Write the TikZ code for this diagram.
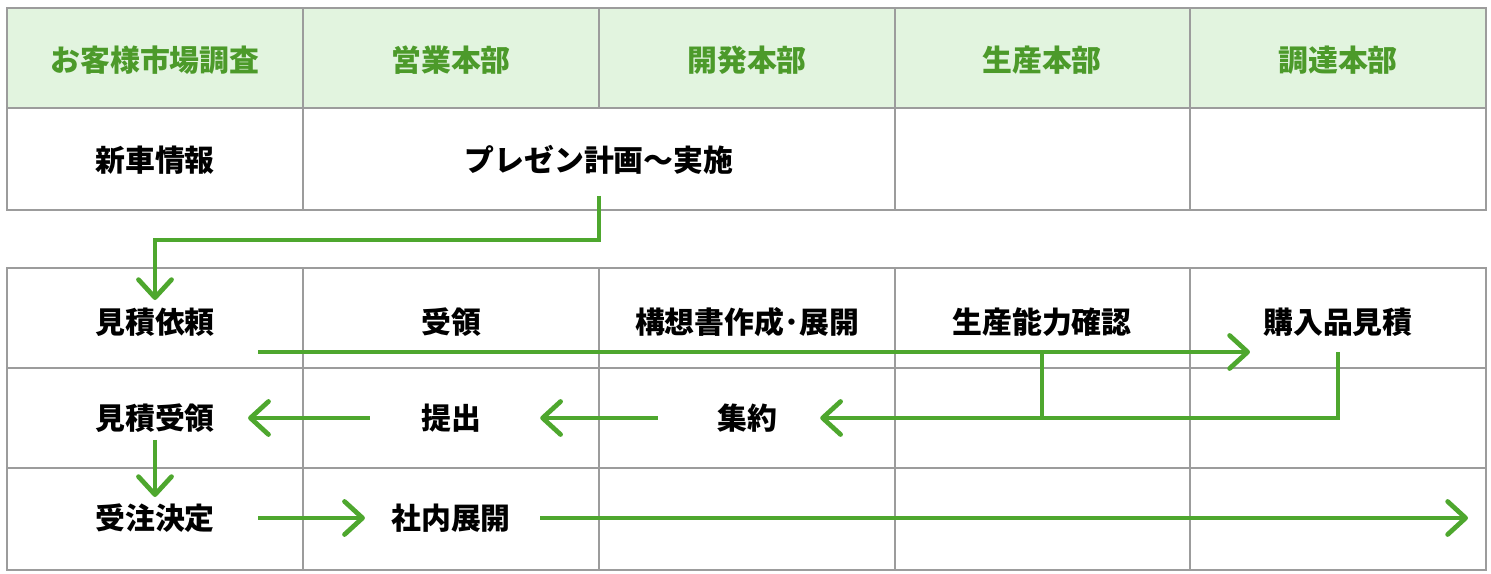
\documentclass[tikz,border=0pt]{standalone}
\usepackage{fontspec}
\setmainfont{Noto Sans CJK JP}
\usepackage{tikz}
\usetikzlibrary{arrows.meta}
\definecolor{gridgray}{HTML}{9C9C9C}
\definecolor{headfill}{HTML}{E2F4DF}
\definecolor{headtext}{HTML}{4C9A2A}
\definecolor{flowgreen}{HTML}{4EA72E}

\begin{document}
\begin{tikzpicture}[x=0.02cm,y=-0.02cm,
  grid/.style={draw=gridgray, line width=1.2pt},
  head/.style={inner sep=0pt, text=headtext, font=\fontsize{17pt}{20pt}\selectfont\bfseries},
  lbl/.style={inner sep=0pt, text=black, font=\fontsize{17pt}{20pt}\selectfont\bfseries},
  flow/.style={draw=flowgreen, line width=2.7pt, -{Straight Barb[length=3.6mm,width=6.6mm,round]}},
  link/.style={draw=flowgreen, line width=2.7pt}]
	\useasboundingbox (0,0) rectangle (1491,574);

	% upper table
	\fill[headfill] (7,8) rectangle (1486,108);
	\draw[grid] (7,8) rectangle (1486,210);
	\draw[grid] (7,108) -- (1486,108);
	\draw[grid] (303,8) -- (303,210);
	\draw[grid] (599,8) -- (599,108);
	\draw[grid] (895,8) -- (895,210);
	\draw[grid] (1190,8) -- (1190,210);

	% lower table
	\draw[grid] (7,268) rectangle (1486,570);
	\draw[grid] (7,368) -- (1486,368);
	\draw[grid] (7,468) -- (1486,468);
	\draw[grid] (303,268) -- (303,570);
	\draw[grid] (599,268) -- (599,570);
	\draw[grid] (895,268) -- (895,570);
	\draw[grid] (1190,268) -- (1190,570);

	\node[head] (H1) at (155,60)  {お客様市場調査};
	\node[head] (H2) at (451,60)  {営業本部};
	\node[head] (H3) at (747,60)  {開発本部};
	\node[head] (H4) at (1042,60) {生産本部};
	\node[head] (H5) at (1338,60) {調達本部};

	\node[lbl] (shinsha) at (155,160) {新車情報};
	\node[lbl] (presen)  at (599,160) {プレゼン計画〜実施};

	\node[lbl] (irai)    at (155,322)  {見積依頼};
	\node[lbl] (juryo)   at (451,322)  {受領};
	\node[lbl] (kousou)  at (747,322)  {構想書作成･展開};
	\node[lbl] (seisan)  at (1042,322) {生産能力確認};
	\node[lbl] (kounyu)  at (1338,322) {購入品見積};

	\node[lbl] (uke)       at (155,418) {見積受領};
	\node[lbl] (teishutsu) at (451,418) {提出};
	\node[lbl] (shuyaku)   at (747,418) {集約};

	\node[lbl] (juchu)  at (155,518) {受注決定};
	\node[lbl] (shanai) at (451,518) {社内展開};
	\coordinate (rowend) at (1468,518);

	\path[flow] ([yshift=-0.72cm]presen.center) -- ++(0,44) -| ([yshift=0.44cm]irai.center);
	\path[flow] ([shift={(0.86cm,-0.6cm)}]irai.east) -- ([shift={(-0.26cm,-0.6cm)}]kounyu.west);
	\path[flow] ([yshift=-0.6cm]kounyu.center) |- ([xshift=0.86cm]shuyaku.east);
	\path[link] ([yshift=-0.6cm]seisan.center) -- (seisan.center |- shuyaku.center);
	\path[flow] ([xshift=-1.18cm]shuyaku.west) -- ([xshift=1.18cm]teishutsu.east);
	\path[flow] ([xshift=-1.02cm]teishutsu.west) -- ([xshift=0.66cm]uke.east);
	\path[flow] ([yshift=-0.44cm]uke.center) -- ([yshift=0.42cm]juchu.center);
	\path[flow] ([xshift=0.86cm]juchu.east) -- ([xshift=-0.52cm]shanai.west);
	\path[flow] ([xshift=0.58cm]shanai.east) -- (rowend);

\end{tikzpicture}
\end{document}
